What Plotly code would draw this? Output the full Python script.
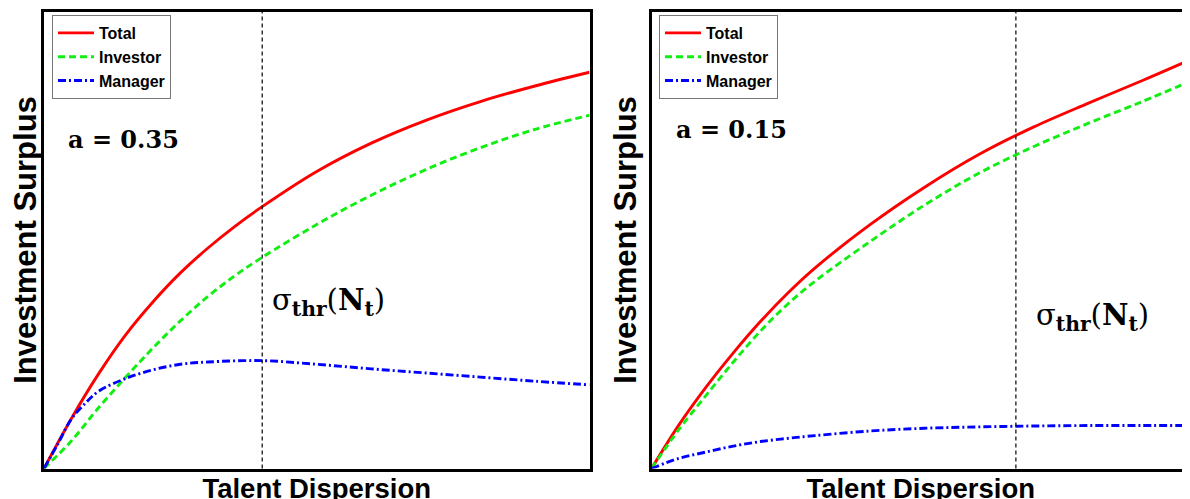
import plotly.graph_objects as go

# ---------------- data ----------------
# Left panel (a = 0.35)
left_x = [0, 0.05, 0.1, 0.15, 0.2, 0.25, 0.3, 0.35, 0.4, 0.5, 0.6, 0.7, 0.8, 0.9, 1.0]
left_total = [0, 10.9, 20.7, 29.3, 36.5, 42.8, 48.2, 53.0, 57.3, 65.0, 71.2, 76.2, 80.3, 83.7, 86.7]
left_investor = [0, 6.0, 13.3, 20.0, 26.4, 32.3, 37.6, 42.2, 46.2, 53.4, 59.8, 65.4, 70.2, 74.2, 77.3]

left_x_manager = [0, 0.025, 0.05, 0.075, 0.1, 0.15, 0.2, 0.25, 0.3, 0.4, 0.5, 0.6, 0.7, 0.8, 0.9, 1.0]
left_manager = [0, 5.3, 10.8, 14.2, 16.9, 19.7, 21.6, 22.8, 23.3, 23.6, 22.8, 21.8, 20.9, 20.0, 19.1, 18.3]

# Right panel (a = 0.15) - the panel runs past the right edge of the picture
right_x = [0, 0.05, 0.1, 0.15, 0.2, 0.25, 0.3, 0.4, 0.5, 0.6, 0.7, 0.8, 0.9, 0.985]
right_total = [0, 9.5, 17.8, 25.3, 32.2, 38.4, 43.9, 53.3, 61.5, 68.7, 74.7, 79.9, 84.9, 89.3]
right_investor = [0, 8.5, 16.0, 23.3, 30.1, 36.0, 41.0, 49.6, 57.6, 64.6, 70.4, 75.5, 80.3, 84.6]
right_manager = [0, 2.2, 3.6, 4.9, 5.9, 6.6, 7.2, 8.2, 8.8, 9.1, 9.3, 9.4, 9.4, 9.4]

# threshold positions and labels
left_threshold = 0.400
right_threshold = 0.668
series_names = ["Total", "Investor", "Manager"]
panel_labels = ["a = 0.35", "a = 0.15"]
x_title = "Talent Dispersion"
y_title = "Investment Surplus"

# ---------------- styling ----------------
RED, GREEN, BLUE = "#ff0000", "#11ee11", "#0000ff"
styles = {
    "Total": dict(color=RED, width=2.9),
    "Investor": dict(color=GREEN, width=2.9, dash="7px,4px"),
    "Manager": dict(color=BLUE, width=2.9, dash="8px,3px,2px,3px"),
}
SANS = "Liberation Sans, Arial, sans-serif"
SERIF = "DejaVu Serif, Liberation Serif, serif"

# the page adds an 8px body margin; the figure runs slightly past the bottom edge,
# as the reference's axis titles do
W, H = 1182, 496
fig = go.Figure()


def add(x, y, name, xa, ya, legend):
    fig.add_trace(go.Scatter(
        x=x, y=y, name=name, mode="lines",
        line=dict(**styles[name], shape="spline", smoothing=1.0),
        xaxis=xa, yaxis=ya, legend=legend, hoverinfo="skip"))


add(left_x, left_total, series_names[0], "x", "y", "legend")
add(left_x, left_investor, series_names[1], "x", "y", "legend")
add(left_x_manager, left_manager, series_names[2], "x", "y", "legend")
add(right_x, right_total, series_names[0], "x2", "y2", "legend2")
add(right_x, right_investor, series_names[1], "x2", "y2", "legend2")
add(right_x, right_manager, series_names[2], "x2", "y2", "legend2")

ydom = [(H - 460.5) / H, (H - 3.5) / H]
axis_common = dict(showgrid=False, zeroline=False, showticklabels=False, ticks="",
                   showline=True, linecolor="black", linewidth=3)
title_font_x = dict(family=SANS, size=27.5, color="black", weight="bold")
title_font_y = dict(family=SANS, size=31, color="black", weight="bold")
legend_font = dict(family=SANS, size=16, color="black", weight="bold")

fig.update_layout(
    width=W, height=H,
    margin=dict(l=0, r=0, t=0, b=0),
    paper_bgcolor="white", plot_bgcolor="white",
    template="none",
    xaxis=dict(domain=[36 / W, 581.5 / W], range=[0, 1], mirror=True, anchor="y",
               title=dict(text=x_title, font=title_font_x, standoff=15), **axis_common),
    yaxis=dict(domain=ydom, range=[0, 100], mirror=True, anchor="x",
               title=dict(text=y_title, font=title_font_y, standoff=3), **axis_common),
    xaxis2=dict(domain=[643.5 / W, 1.0], range=[0, 538.5 / 545.5], mirror=True, anchor="y2",
                title=dict(text=x_title, font=title_font_x, standoff=15), **axis_common),
    yaxis2=dict(domain=ydom, range=[0, 100], mirror=False, anchor="x2",
                title=dict(text=y_title, font=title_font_y, standoff=3), **axis_common),
    legend=dict(x=44 / W, y=1 - 7 / H, xanchor="left", yanchor="top",
                bgcolor="white", bordercolor="#777777", borderwidth=1,
                font=legend_font, tracegroupgap=0, itemwidth=36),
    legend2=dict(x=651 / W, y=1 - 7 / H, xanchor="left", yanchor="top",
                 bgcolor="white", bordercolor="#777777", borderwidth=1,
                 font=legend_font, tracegroupgap=0, itemwidth=36),
    showlegend=True,
)

# threshold lines
fig.add_shape(type="line", xref="x", yref="y domain", x0=left_threshold, x1=left_threshold,
              y0=0, y1=1, line=dict(color="black", width=1.2, dash="4px,3px"))
fig.add_shape(type="line", xref="x2", yref="y2 domain", x0=right_threshold, x1=right_threshold,
              y0=0, y1=1, line=dict(color="black", width=1.2, dash="4px,3px"))

# annotations
ann_font_bold = dict(family=SERIF, size=24, color="black", weight="bold")
ann_font = dict(family=SERIF, size=29, color="black")
fig.add_annotation(x=0.146, y=72.0, xref="x", yref="y", text=panel_labels[0],
                   showarrow=False, font=ann_font_bold)
fig.add_annotation(x=0.146, y=74.2, xref="x2", yref="y2", text=panel_labels[1],
                   showarrow=False, font=ann_font_bold)
sigma = "σ<sub><b>thr</b></sub>(<b>N</b><sub><b>t</b></sub>)"
fig.add_annotation(x=0.522, y=36.5, xref="x", yref="y", text=sigma, showarrow=False, font=ann_font)
fig.add_annotation(x=0.808, y=33.2, xref="x2", yref="y2", text=sigma, showarrow=False, font=ann_font)

fig.write_html("out.html")
